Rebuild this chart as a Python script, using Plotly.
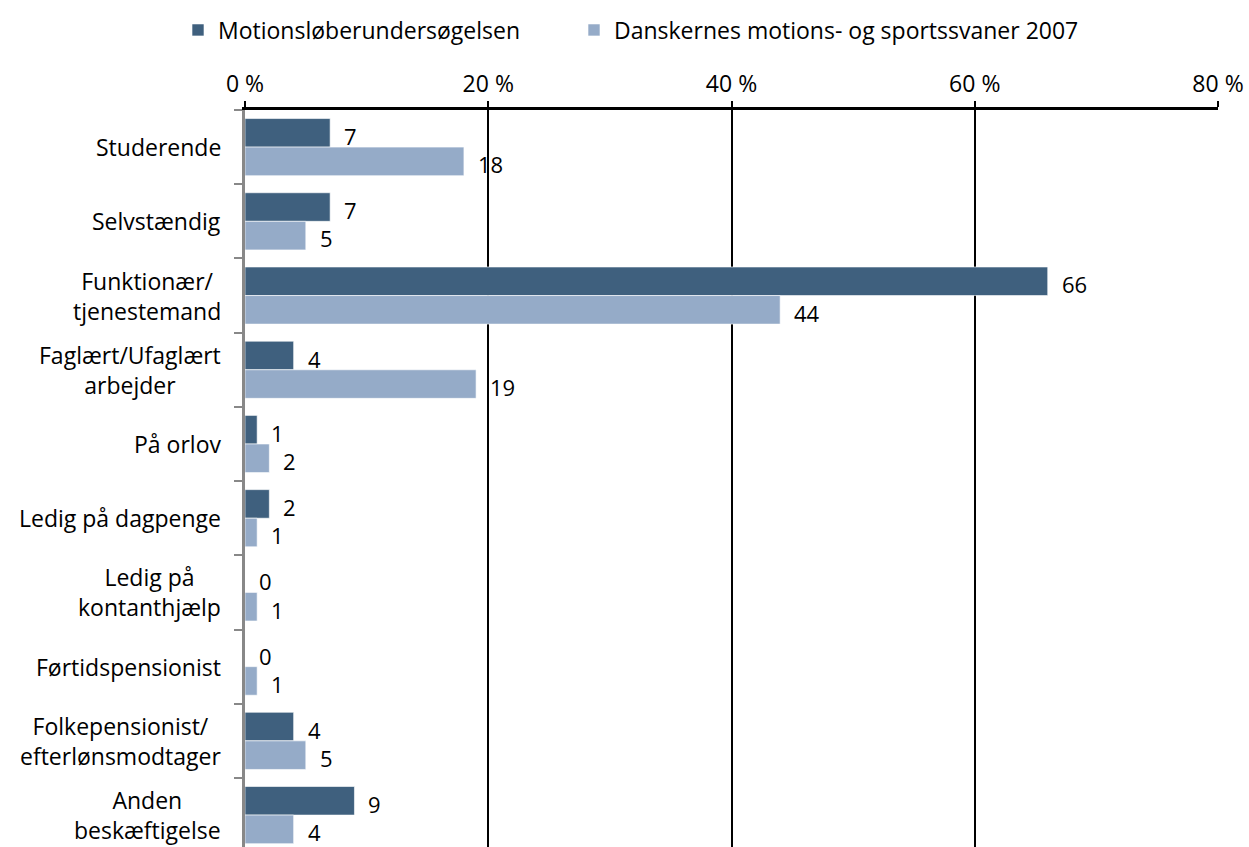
import plotly.graph_objects as go

# Occupational status of the respondents, in percent
categories = [
    "Studerende",
    "Selvstændig",
    "Funktionær/<br>tjenestemand",
    "Faglært/Ufaglært<br>arbejder",
    "På orlov",
    "Ledig på dagpenge",
    "Ledig på<br>kontanthjælp",
    "Førtidspensionist",
    "Folkepensionist/<br>efterlønsmodtager",
    "Anden<br>beskæftigelse",
]
motionslob = [7, 7, 66, 4, 1, 2, 0, 0, 4, 9]
danskerne = [18, 5, 44, 19, 2, 1, 1, 1, 5, 4]

series_names = ["Motionsløberundersøgelsen", "Danskernes motions- og sportssvaner 2007"]
series_colors = ["#3F607E", "#95ABC8"]
x_ticks = [0, 20, 40, 60, 80]

FONT = "Open Sans"
FS = 23
W, H = 1249, 847

fig = go.Figure()
for name, vals, col, lg in zip(series_names, [motionslob, danskerne], series_colors,
                               ["legend", "legend2"]):
    fig.add_trace(go.Bar(
        y=categories, x=vals, name=name, orientation="h", legend=lg,
        marker=dict(color=col, line=dict(color="rgba(255,255,255,0.6)", width=1)),
    ))

# value labels just beyond each bar end
n = len(categories)
for k, (vals, off) in enumerate([(motionslob, -0.19), (danskerne, 0.19)]):
    for i, v in enumerate(vals):
        fig.add_annotation(
            x=v, y=i + off, xref="x", yref="y", text=str(v), showarrow=False,
            xanchor="left", yanchor="middle", xshift=12, yshift=-3,
            font=dict(family=FONT, size=FS - 1, color="#000000"),
        )

# category labels, centred per line
for i, c in enumerate(categories):
    fig.add_annotation(
        x=0, y=i, xref="x", yref="y", text=c, showarrow=False,
        xanchor="right", yanchor="middle", xshift=-22, align="center",
        font=dict(family=FONT, size=FS, color="#000000"),
    )

legend_common = dict(
    orientation="h", xref="container", yref="container",
    xanchor="left", y=1 - 30 / H, yanchor="middle",
    font=dict(family=FONT, size=FS), itemwidth=30,
)

fig.update_layout(
    width=W, height=H,
    margin=dict(l=245, r=31, t=110, b=0),
    paper_bgcolor="white", plot_bgcolor="white",
    barmode="group", bargap=0.23, bargroupgap=0,
    font=dict(family=FONT, size=FS, color="#000000"),
    legend=dict(x=178 / W, **legend_common),
    legend2=dict(x=574 / W, **legend_common),
    showlegend=True,
)
fig.update_xaxes(
    side="top", range=[0, 80], tickvals=x_ticks,
    ticktext=[f"{t} %" for t in x_ticks],
    showgrid=True, gridcolor="#000000", gridwidth=2,
    showline=True, linecolor="#000000", linewidth=3,
    ticks="outside", ticklen=6, tickcolor="#000000", tickwidth=2,
    zeroline=False, tickfont=dict(family=FONT, size=FS),
)
fig.update_yaxes(
    type="category", range=[n - 0.5 - 0.07, -0.5],
    showticklabels=False, showgrid=False, zeroline=False,
    showline=True, linecolor="#888888", linewidth=3,
    ticks="outside", tickson="boundaries", ticklen=8, tickcolor="#888888", tickwidth=2,
)

fig.write_html("out.html")
